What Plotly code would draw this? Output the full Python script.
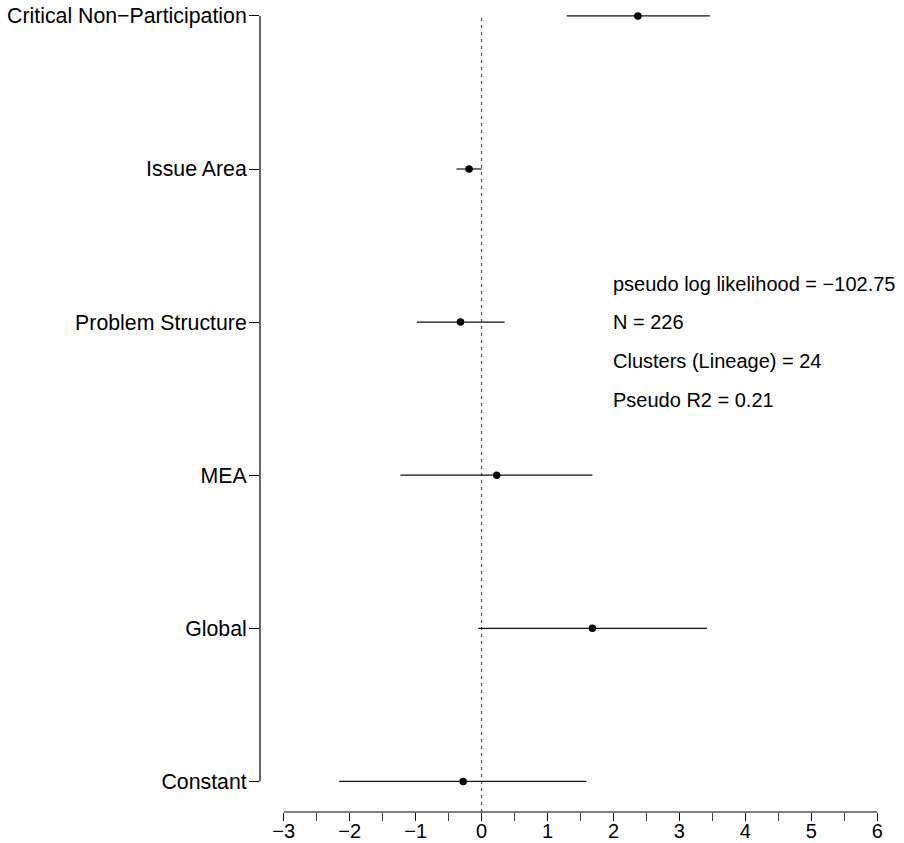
import plotly.graph_objects as go

# Data (bottom to top)
terms = ["Constant", "Global", "MEA", "Problem Structure", "Issue Area", "Critical Non\u2212Participation"]
estimates = [-0.28, 1.68, 0.23, -0.32, -0.19, 2.37]
ci_low = [-2.16, -0.05, -1.23, -0.98, -0.38, 1.29]
ci_high = [1.59, 3.42, 1.68, 0.35, 0.00, 3.46]
positions = [1, 2, 3, 4, 5, 6]
x_ticks = [-3, -2, -1, 0, 1, 2, 3, 4, 5, 6]
stats_text = [
    "pseudo log likelihood = \u2212102.75",
    "N = 226",
    "Clusters (Lineage) = 24",
    "Pseudo R2 = 0.21",
]
stats_y = [4.25, 4.0, 3.745, 3.49]

FONT = "Liberation Sans, Arial, Helvetica, sans-serif"

fig = go.Figure()

# zero reference line
fig.add_trace(go.Scatter(
    x=[0, 0], y=[0.8, 6], mode="lines",
    line=dict(color="#555555", width=1.3, dash="3px,4px"),
    hoverinfo="skip", showlegend=False,
))

# confidence intervals
for p, lo, hi in zip(positions, ci_low, ci_high):
    fig.add_trace(go.Scatter(
        x=[lo, hi], y=[p, p], mode="lines",
        line=dict(color="#111111", width=1.2),
        hoverinfo="skip", showlegend=False,
    ))

# point estimates
fig.add_trace(go.Scatter(
    x=estimates, y=positions, mode="markers",
    marker=dict(color="black", size=7.5, line=dict(width=0)),
    showlegend=False,
))

# axis lines (R-style detached, spanning the tick range)
fig.add_shape(type="line", xref="x", yref="paper",
              x0=x_ticks[0], x1=x_ticks[-1], y0=0, y1=0,
              line=dict(color="black", width=1.2))
fig.add_shape(type="line", xref="paper", yref="y",
              x0=0, x1=0, y0=positions[0], y1=positions[-1],
              line=dict(color="black", width=1.2))

for t, yv in zip(stats_text, stats_y):
    fig.add_annotation(x=1.97, y=yv, xref="x", yref="y", text=t,
                       showarrow=False, xanchor="left", yanchor="middle",
                       font=dict(family=FONT, size=20, color="black"))

fig.update_layout(
    width=904, height=843,
    margin=dict(l=260, r=3, t=0, b=31, autoexpand=False),
    paper_bgcolor="white", plot_bgcolor="white",
    font=dict(family=FONT, size=20, color="black"),
    xaxis=dict(
        range=[-3.36, 6.36], tickvals=x_ticks, ticktext=[str(v).replace("-", "\u2212") for v in x_ticks],
        showgrid=False, zeroline=False, showline=False, automargin=False,
        ticks="outside", ticklen=8, tickwidth=1.2, tickcolor="black",
        minor=dict(dtick=0.5, tick0=0.5, ticks="outside", ticklen=8, tickwidth=1, tickcolor="#444444", showgrid=False),
        tickfont=dict(family=FONT, size=20), ticklabelstandoff=-7,
    ),
    yaxis=dict(
        range=[0.8, 6.104], tickvals=positions, ticktext=terms,
        showgrid=False, zeroline=False, showline=False, automargin=False,
        ticks="outside", ticklen=10, tickwidth=1.2, tickcolor="black",
        tickfont=dict(family=FONT, size=21.3), ticklabelstandoff=-2,
    ),
)

fig.write_html("out.html")
